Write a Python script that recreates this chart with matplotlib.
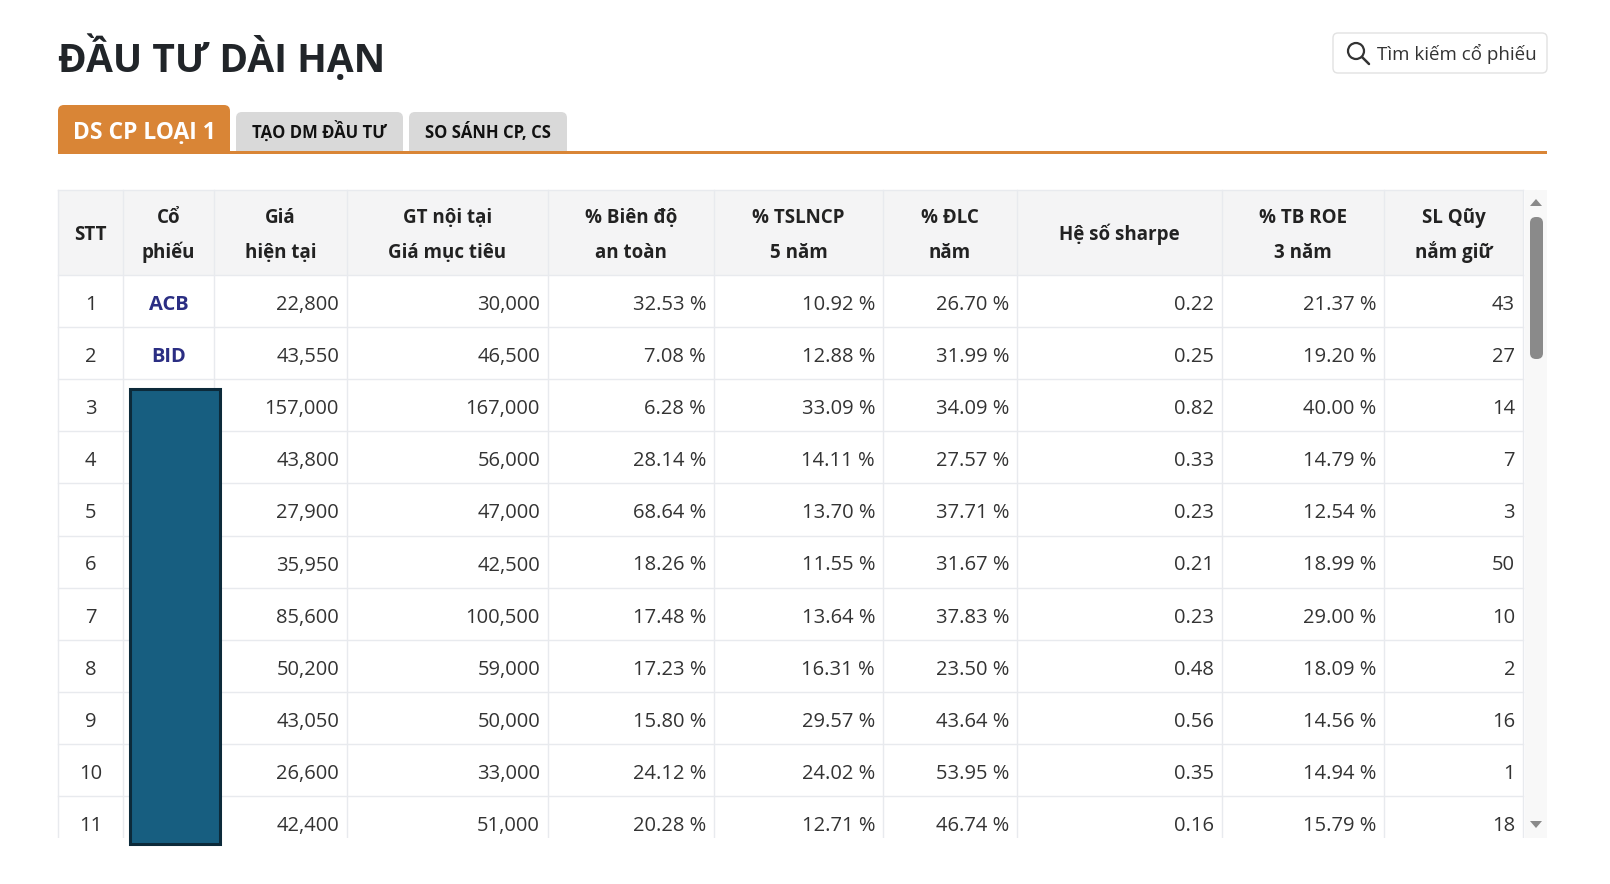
import matplotlib
matplotlib.use("Agg")
import matplotlib.pyplot as plt
from matplotlib.patches import Rectangle, FancyBboxPatch, Circle, Polygon

plt.rcParams['font.family'] = ['Open Sans', 'Noto Sans', 'DejaVu Sans']

# Table data
headers = [("STT", ""), ("Cổ", "phiếu"), ("Giá", "hiện tại"), ("GT nội tại", "Giá mục tiêu"),
           ("% Biên độ", "an toàn"), ("% TSLNCP", "5 năm"), ("% ĐLC", "năm"),
           ("Hệ số sharpe", ""), ("% TB ROE", "3 năm"), ("SL Qũy", "nắm giữ")]
stt = list(range(1, 12))
tickers = ["ACB", "BID", "", "", "", "", "", "", "", "", ""]
price = [22800, 43550, 157000, 43800, 27900, 35950, 85600, 50200, 43050, 26600, 42400]
target = [30000, 46500, 167000, 56000, 47000, 42500, 100500, 59000, 50000, 33000, 51000]
safety = [32.53, 7.08, 6.28, 28.14, 68.64, 18.26, 17.48, 17.23, 15.80, 24.12, 20.28]
tslncp = [10.92, 12.88, 33.09, 14.11, 13.70, 11.55, 13.64, 16.31, 29.57, 24.02, 12.71]
dlc = [26.70, 31.99, 34.09, 27.57, 37.71, 31.67, 37.83, 23.50, 43.64, 53.95, 46.74]
sharpe = [0.22, 0.25, 0.82, 0.33, 0.23, 0.21, 0.23, 0.48, 0.56, 0.35, 0.16]
roe = [21.37, 19.20, 40.00, 14.79, 12.54, 18.99, 29.00, 18.09, 14.56, 14.94, 15.79]
funds = [43, 27, 14, 7, 3, 50, 10, 2, 16, 1, 18]
tabs = ["DS CP LOẠI 1", "TẠO DM ĐẦU TƯ", "SO SÁNH CP, CS"]

# Layout (pixels)
W, H = 1610, 884
col_x = [58, 123, 214, 347, 548, 714, 883, 1017, 1222, 1384, 1523]
tbl_top, head_bot, row_h, tbl_bot = 190, 275, 52.1, 838
orange = "#D98536"
grid_c = "#E8EAEE"
txt_c = "#333333"

fig = plt.figure(figsize=(W / 100, H / 100), dpi=100)
ax = fig.add_axes([0, 0, 1, 1])
ax.set_xlim(0, W)
ax.set_ylim(H, 0)
ax.axis('off')

# Title
ax.text(58, 72, "ĐẦU TƯ DÀI HẠN", fontsize=28, fontweight='bold', color="#212529", va='baseline')

# Search box
ax.add_patch(FancyBboxPatch((1333, 33), 214, 40, boxstyle="round,pad=0,rounding_size=5",
                            fc='white', ec="#E2E2E2", lw=1))
ax.add_patch(Circle((1356, 51), 8, fill=False, ec="#333333", lw=1.6))
ax.plot([1362, 1369], [57, 64], color="#333333", lw=1.8, solid_capstyle='round')
ax.text(1377, 60, "Tìm kiếm cổ phiếu", fontsize=13.5, color=txt_c, va='baseline')

# Tabs
tab_boxes = [(58, 230, 105), (236, 403, 112), (409, 567, 112)]
for i, (name, (x0, x1, y0)) in enumerate(zip(tabs, tab_boxes)):
    fc = orange if i == 0 else "#D9D9D9"
    ax.add_patch(FancyBboxPatch((x0, y0), x1 - x0, 151 - y0, boxstyle="round,pad=0,rounding_size=6",
                                fc=fc, ec='none'))
    ax.add_patch(Rectangle((x0, y0 + 10), x1 - x0, 141 - y0, fc=fc, ec='none'))
    if i == 0:
        ax.text((x0 + x1) / 2, 139, name, fontsize=16.5, fontweight='bold', color='white',
                ha='center', va='baseline')
    else:
        ax.text((x0 + x1) / 2, 138, name, fontsize=12, fontweight='bold', color="#111111",
                ha='center', va='baseline')
ax.add_patch(Rectangle((58, 151), 1547 - 58, 3, fc=orange, ec='none'))

# Header background
ax.add_patch(Rectangle((col_x[0], tbl_top), col_x[-1] - col_x[0], head_bot - tbl_top,
                       fc="#F4F4F5", ec='none'))

# Grid lines
for x in col_x:
    ax.plot([x, x], [tbl_top, tbl_bot], color=grid_c, lw=1)
ax.plot([col_x[0], col_x[-1]], [tbl_top, tbl_top], color=grid_c, lw=1)
for r in range(len(stt)):
    y = head_bot + r * row_h
    ax.plot([col_x[0], col_x[-1]], [y, y], color=grid_c, lw=1)

# Header text
for j, (l1, l2) in enumerate(headers):
    cx = (col_x[j] + col_x[j + 1]) / 2
    if l2:
        ax.text(cx, 223, l1, fontsize=13.5, fontweight='bold', color="#222222", ha='center', va='baseline')
        ax.text(cx, 258, l2, fontsize=13.5, fontweight='bold', color="#222222", ha='center', va='baseline')
    else:
        ax.text(cx, 240, l1, fontsize=13.5, fontweight='bold', color="#222222", ha='center', va='baseline')

# Body cells
cols = [
    [f"{v:,}" for v in price],
    [f"{v:,}" for v in target],
    [f"{v:.2f} %" for v in safety],
    [f"{v:.2f} %" for v in tslncp],
    [f"{v:.2f} %" for v in dlc],
    [f"{v:.2f}" for v in sharpe],
    [f"{v:.2f} %" for v in roe],
    [str(v) for v in funds],
]
for r in range(len(stt)):
    yb = 310 + r * row_h
    ax.text((col_x[0] + col_x[1]) / 2, yb, str(stt[r]), fontsize=14.5, color=txt_c,
            ha='center', va='baseline')
    if tickers[r]:
        ax.text((col_x[1] + col_x[2]) / 2, yb, tickers[r], fontsize=14.5, fontweight='bold',
                color="#2B2E83", ha='center', va='baseline')
    for j, vals in enumerate(cols):
        ax.text(col_x[j + 3] - 8, yb, vals[r], fontsize=14.5, color=txt_c,
                ha='right', va='baseline')

# White area below the clipped table
ax.add_patch(Rectangle((0, tbl_bot), W, H - tbl_bot, fc='white', ec='none', zorder=3))

# Redaction block over hidden tickers
ax.add_patch(Rectangle((130, 389), 90, 455, fc="#175E80", ec="#0C2A3A", lw=2.2, zorder=4))

# Scrollbar
ax.add_patch(Rectangle((1525, tbl_top), 22, tbl_bot - tbl_top, fc="#F8F8F8", ec='none'))
ax.add_patch(Polygon([(1530, 206), (1542, 206), (1536, 199)], fc="#8A8A8A", ec='none'))
ax.add_patch(Polygon([(1530, 821), (1542, 821), (1536, 828)], fc="#8A8A8A", ec='none', zorder=5))
ax.add_patch(FancyBboxPatch((1530, 217), 13, 142, boxstyle="round,pad=0,rounding_size=6",
                            fc="#8A8A8A", ec='none'))

fig.savefig("out.png", dpi=100, facecolor='white')
